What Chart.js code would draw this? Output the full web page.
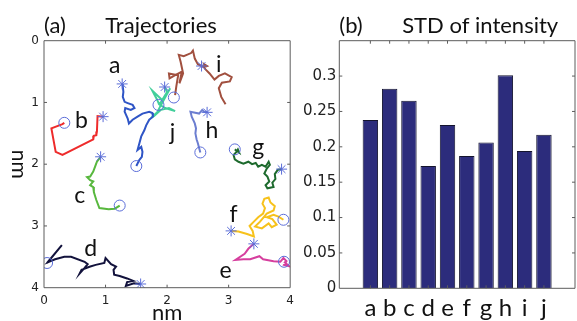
<!DOCTYPE html>
<html>
<head>
<meta charset="utf-8">
<title>Trajectories / STD of intensity</title>
<script src="https://cdn.jsdelivr.net/npm/chart.js@4.4.1/dist/chart.umd.min.js"></script>
<style>
  html, body { margin: 0; padding: 0; background: #fff; overflow: hidden; }
  #wrap { position: relative; width: 577px; height: 321px; }
  .panel { position: absolute; top: 0; height: 321px; }
  #panelA { left: 0; width: 300px; }
  #panelB { left: 300px; width: 277px; }
</style>
</head>
<body>
<div id="wrap">
  <div class="panel" id="panelA"><canvas id="trajChart"></canvas></div>
  <div class="panel" id="panelB"><canvas id="stdChart"></canvas></div>
</div>
<script>
// data (nm)
const trajNames = ["a", "b", "c", "d", "e", "f", "g", "h", "i", "j"];
const nmTicks = [0, 1, 2, 3, 4];

const trajA = [[1.27,0.70],[1.28,0.74],[1.29,0.83],[1.28,0.91],[1.31,0.99],[1.36,1.01],[1.44,1.04],[1.47,1.09],[1.41,1.12],[1.32,1.09],[1.31,1.15],[1.36,1.26],[1.38,1.34],[1.44,1.28],[1.52,1.23],[1.60,1.18],[1.71,1.15],[1.76,1.17],[1.77,1.23],[1.71,1.28],[1.66,1.37],[1.63,1.45],[1.58,1.55],[1.55,1.66],[1.52,1.77],[1.58,1.72],[1.60,1.80],[1.59,1.88],[1.55,1.93],[1.50,2.03]];
const trajB = [[0.96,1.23],[0.87,1.22],[0.86,1.47],[0.85,1.53],[0.81,1.54],[0.80,1.60],[0.30,1.85],[0.19,1.80],[0.12,1.42],[0.30,1.35],[0.33,1.33]];
const trajC = [[0.92,1.88],[0.86,1.96],[0.83,2.04],[0.80,2.12],[0.75,2.20],[0.70,2.21],[0.75,2.26],[0.80,2.28],[0.75,2.34],[0.80,2.37],[0.81,2.45],[0.85,2.58],[0.90,2.71],[1.05,2.73],[1.15,2.72],[1.23,2.67]];
const trajD = [[1.57,3.94],[1.46,3.93],[1.33,3.97],[1.35,3.91],[1.45,3.89],[1.35,3.85],[1.23,3.81],[1.14,3.79],[1.13,3.71],[1.17,3.66],[1.09,3.62],[1.00,3.52],[0.98,3.60],[0.84,3.63],[0.74,3.66],[0.61,3.71],[0.58,3.77],[0.66,3.68],[0.71,3.62],[0.66,3.58],[0.44,3.50],[0.33,3.50],[0.18,3.54],[0.06,3.59],[0.29,3.31],[0.05,3.60]];
const trajE = [[3.41,3.29],[3.32,3.37],[3.26,3.45],[3.11,3.55],[3.24,3.54],[3.35,3.54],[3.50,3.49],[3.56,3.54],[3.73,3.57],[3.84,3.58],[3.89,3.52],[3.94,3.57],[3.90,3.63],[3.98,3.65],[3.90,3.58]];
const trajF = [[3.04,3.08],[3.16,3.09],[3.30,3.13],[3.41,3.17],[3.39,3.08],[3.34,3.00],[3.41,2.93],[3.48,2.86],[3.56,2.80],[3.59,2.71],[3.55,2.64],[3.58,2.56],[3.65,2.54],[3.68,2.62],[3.75,2.68],[3.73,2.75],[3.62,2.80],[3.51,2.93],[3.43,3.01],[3.54,3.04],[3.65,2.96],[3.70,3.02],[3.78,2.98],[3.71,2.89],[3.62,2.86],[3.73,2.82],[3.81,2.85],[3.89,2.90]];
const trajG = [[3.86,2.08],[3.80,2.09],[3.75,2.16],[3.76,2.24],[3.71,2.30],[3.73,2.37],[3.63,2.39],[3.60,2.34],[3.66,2.28],[3.63,2.20],[3.58,2.15],[3.62,2.07],[3.67,2.01],[3.65,1.96],[3.60,2.04],[3.54,2.01],[3.48,2.04],[3.44,1.98],[3.38,2.00],[3.32,1.96],[3.24,1.99],[3.16,1.96],[3.10,1.92],[3.08,1.85],[3.12,1.81],[3.15,1.76],[3.17,1.81],[3.10,1.76]];
const trajH = [[2.65,1.16],[2.60,1.15],[2.57,1.12],[2.52,1.18],[2.38,1.15],[2.40,1.23],[2.45,1.34],[2.47,1.42],[2.46,1.50],[2.48,1.60],[2.50,1.66],[2.54,1.81]];
const trajI = [[2.13,0.88],[2.15,0.74],[2.18,0.56],[2.03,0.53],[2.04,0.61],[2.11,0.57],[2.24,0.50],[2.20,0.69],[2.26,0.53],[2.22,0.34],[2.19,0.23],[2.27,0.25],[2.39,0.20],[2.42,0.16],[2.45,0.29],[2.50,0.38],[2.56,0.41],[2.60,0.43],[2.65,0.41],[2.60,0.38],[2.62,0.46],[2.69,0.53],[2.77,0.63],[2.84,0.57],[2.94,0.53],[3.05,0.59],[3.02,0.66],[2.89,0.68],[2.84,0.77],[2.88,0.91],[2.95,1.03]];
const trajJ = [[1.96,0.75],[2.00,0.83],[1.92,0.96],[1.76,0.81],[1.84,0.96],[1.87,1.03],[1.97,1.09],[2.13,1.14],[2.03,1.09],[1.90,1.12],[1.79,1.22],[1.74,1.25],[1.84,1.16],[1.89,1.06],[2.05,0.77],[1.97,0.91],[1.86,1.04]];
const trajs = [trajA, trajB, trajC, trajD, trajE, trajF, trajG, trajH, trajI, trajJ];

// start (*) and end (o) of each trajectory
const starts = [[1.27,0.70],[0.96,1.23],[0.92,1.88],[1.57,3.94],[3.41,3.29],[3.04,3.08],[3.86,2.08],[2.65,1.16],[2.56,0.41],[1.96,0.75]];
const ends = [[1.50,2.03],[0.33,1.33],[1.23,2.67],[0.05,3.60],[3.90,3.58],[3.89,2.90],[3.10,1.76],[2.54,1.81],[2.11,0.92],[1.86,1.04]];

// where the letters sit (nm, baseline)
const labelAt = [[1.15,0.53],[0.61,1.42],[0.58,2.63],[0.76,3.49],[2.95,3.85],[3.08,2.93],[3.48,1.85],[2.73,1.58],[2.84,0.50],[2.09,1.61]];

// panel (b)
const stdValues = [0.238, 0.282, 0.265, 0.173, 0.231, 0.187, 0.206, 0.301, 0.194, 0.217];
const stdTicks = [0, 0.05, 0.1, 0.15, 0.2, 0.25, 0.3];

const trajColors = ["#2f55c6", "#ee2b2b", "#58b83e", "#12123c", "#d63f9e", "#f7c21c", "#1d6a2d", "#6c7ed0", "#a1503f", "#42cf9b"];
const markColor = "#5b6dd8";
const tickFont = { family: "DejaVu Sans", size: 12 };

const toPts = (arr) => arr.map((p) => ({ x: p[0], y: p[1] }));

// box + inward ticks, matlab style
const frame = {
  id: "frame",
  afterDatasetsDraw(chart) {
    const { ctx, chartArea: a, scales } = chart;
    const x = scales.x, y = scales.y;
    const len = 3;
    ctx.save();
    ctx.strokeStyle = "#5c5c5c";
    ctx.lineWidth = 1;
    ctx.beginPath();
    x.ticks.forEach((t) => {
      const px = x.getPixelForValue(t.value);
      if (px < a.left + 2 || px > a.right - 2) return;
      ctx.moveTo(px, a.bottom); ctx.lineTo(px, a.bottom - len);
      ctx.moveTo(px, a.top); ctx.lineTo(px, a.top + len);
    });
    y.ticks.forEach((t) => {
      const py = y.getPixelForValue(t.value);
      if (py < a.top + 2 || py > a.bottom - 2) return;
      ctx.moveTo(a.left, py); ctx.lineTo(a.left + len, py);
      ctx.moveTo(a.right, py); ctx.lineTo(a.right - len, py);
    });
    ctx.rect(a.left, a.top, a.width, a.height);
    ctx.stroke();
    ctx.restore();
  },
};

const letters = {
  id: "letters",
  afterDraw(chart) {
    const { ctx, scales: { x, y } } = chart;
    ctx.save();
    ctx.font = "23px Lato";
    ctx.fillStyle = "#111";
    ctx.textAlign = "center";
    ctx.textBaseline = "alphabetic";
    trajNames.forEach((n, i) => {
      ctx.fillText(n, x.getPixelForValue(labelAt[i][0]), y.getPixelForValue(labelAt[i][1]));
    });
    ctx.restore();
  },
};

// y title reads top to bottom in the original
const sideTitle = {
  id: "sideTitle",
  afterDraw(chart) {
    const { ctx, chartArea: a } = chart;
    ctx.save();
    ctx.translate(12, (a.top + a.bottom) / 2);
    ctx.rotate(Math.PI / 2);
    ctx.font = "21px Lato";
    ctx.fillStyle = "#111";
    ctx.textAlign = "center";
    ctx.fillText("nm", 0, 0);
    ctx.restore();
  },
};

const lineSets = trajs.map((t, i) => ({
  label: trajNames[i],
  data: toPts(t),
  showLine: true,
  borderColor: trajColors[i],
  borderWidth: 2,
  pointRadius: 0,
  fill: false,
  order: 1,
}));

new Chart(document.getElementById("trajChart"), {
  type: "scatter",
  data: {
    datasets: [
      ...lineSets,
      { label: "start", data: toPts(starts), pointStyle: "star", pointRadius: 5.5, borderColor: markColor, backgroundColor: markColor, borderWidth: 1, order: 0 },
      { label: "end", data: toPts(ends), pointStyle: "circle", pointRadius: 5.5, borderColor: markColor, backgroundColor: "rgba(0,0,0,0)", borderWidth: 1, order: 0 },
    ],
  },
  options: {
    responsive: true,
    maintainAspectRatio: false,
    animation: false,
    events: [],
    layout: { padding: { left: 0, right: 8, top: 0, bottom: 0 } },
    plugins: {
      legend: { display: false },
      tooltip: { enabled: false },
      title: {
        display: true,
        text: "(a)       Trajectories",
        align: "start",
        fullSize: false,
        color: "#111",
        font: { family: "Lato", size: 22, weight: "normal", lineHeight: 1.2 },
        padding: { top: 13, bottom: 1.3 },
      },
    },
    scales: {
      x: {
        type: "linear",
        min: 0,
        max: 4,
        afterBuildTicks: (s) => { s.ticks = nmTicks.map((v) => ({ value: v })); },
        afterFit: (s) => { s.height = 33.3; },
        grid: { display: false, drawTicks: false },
        border: { display: false },
        ticks: { padding: 6, font: tickFont, color: "#222", maxRotation: 0 },
        title: { display: true, text: "nm", color: "#111", font: { family: "Lato", size: 22, lineHeight: 1 }, padding: { top: 0, bottom: -3 } },
      },
      y: {
        type: "linear",
        reverse: true,
        min: 0,
        max: 4,
        afterBuildTicks: (s) => { s.ticks = nmTicks.map((v) => ({ value: v })); },
        afterFit: (s) => { s.width = 44; },
        grid: { display: false, drawTicks: false },
        border: { display: false },
        ticks: { padding: 5, font: tickFont, color: "#222" },
      },
    },
  },
  plugins: [frame, letters, sideTitle],
});

new Chart(document.getElementById("stdChart"), {
  type: "bar",
  data: {
    datasets: [
      {
        label: "STD of intensity",
        data: stdValues.map((v, i) => ({ x: i + 1, y: v })),
        backgroundColor: "#2c2c7c",
        borderColor: "#14142e",
        borderWidth: 1,
        barPercentage: 0.8,
        categoryPercentage: 1,
      },
    ],
  },
  options: {
    responsive: true,
    maintainAspectRatio: false,
    animation: false,
    events: [],
    layout: { padding: { left: 0, right: 2, top: 0, bottom: 0 } },
    plugins: {
      legend: { display: false },
      tooltip: { enabled: false },
      title: {
        display: true,
        text: "(b)       STD of intensity",
        align: "start",
        fullSize: false,
        color: "#111",
        font: { family: "Lato", size: 22, weight: "normal", lineHeight: 1.2 },
        padding: { top: 13, bottom: 1.3 },
      },
    },
    scales: {
      x: {
        type: "linear",
        min: 0,
        max: 11,
        afterBuildTicks: (s) => { s.ticks = trajNames.map((n, i) => ({ value: i + 1 })); },
        afterFit: (s) => { s.height = 32.7; },
        grid: { display: false, drawTicks: false },
        border: { display: false },
        ticks: {
          autoSkip: false,
          maxRotation: 0,
          padding: 6,
          color: "#111",
          font: { family: "Lato", size: 24 },
          callback: (v) => trajNames[v - 1] || "",
        },
      },
      y: {
        min: 0,
        max: 0.35,
        afterBuildTicks: (s) => { s.ticks = stdTicks.map((v) => ({ value: v })); },
        afterFit: (s) => { s.width = 39.3; },
        grid: { display: false, drawTicks: false },
        border: { display: false },
        ticks: {
          padding: 3,
          color: "#222",
          font: { family: "DejaVu Sans", size: 15 },
          callback: (v) => String(+v.toFixed(2)),
        },
      },
    },
  },
  plugins: [frame],
});
</script>
</body>
</html>
